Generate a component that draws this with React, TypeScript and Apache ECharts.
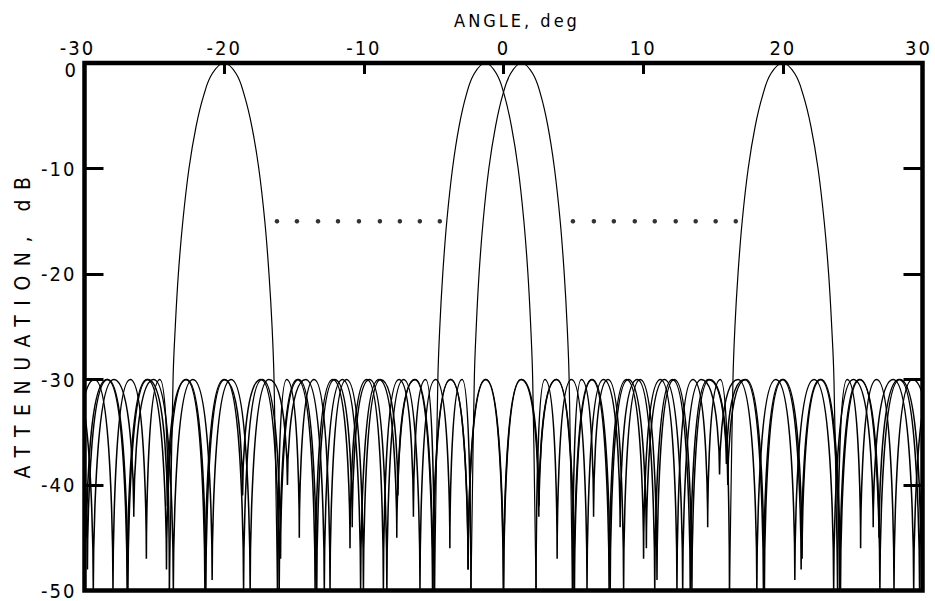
import { useEffect, useRef } from 'react';
import * as echarts from 'echarts';

const FONT = "'DejaVu Sans Condensed', 'DejaVu Sans', sans-serif";

// Axis ticks
const xMin = -30;
const xMax = 30;
const xStep = 10;
const yMin = -50;
const yMax = 0;
const yStep = 10;

// Common levels (dB)
const SIDELOBE_DB = -30;
const DOT_DB = -15;
const mainLevels = [-30, -25, -20, -15, -10, -6, -3, -1, 0, -1, -3, -6, -10, -15, -20, -25, -30];

// Beam steered to -20 deg
const beamA_nulls = [-30.66, -27.96, -25.57, -23.92, -16.18, -14.62, -12.42, -10.03, -7.56, -5.05, -2.54, -0.01, 2.53, 5.08, 7.64, 10.23, 12.83, 15.47, 18.14, 20.86, 23.64, 26.47, 29.37, 32.35];
const beamA_depths = [-44, -50, -47, -50, -50, -45, -50, -50, -41, -50, -48, -50, -43, -50, -50, -46, -50, -39, -50, -49, -50, -44, -50, -47];
const beamA_peaks = [-29.28, -26.72, -24.6, -15.53, -13.56, -11.24, -8.8, -6.31, -3.8, -1.28, 1.25, 3.8, 6.36, 8.93, 11.53, 14.15, 16.8, 19.5, 22.24, 25.04, 27.91, 30.85];
const beamA_mainGap = 3;
const beamA_mainX = [-23.66, -23.5, -23.28, -22.96, -22.52, -22.01, -21.45, -20.85, -20.0, -19.15, -18.57, -18.02, -17.52, -17.09, -16.79, -16.57, -16.43];

// Beam steered to -1.3 deg
const beamB_nulls = [-32.84, -29.85, -26.95, -24.13, -21.38, -18.68, -16.06, -13.49, -10.99, -8.6, -6.45, -4.94, 2.33, 3.84, 5.98, 8.35, 10.83, 13.37, 15.96, 18.61, 21.31, 24.07, 26.89, 29.79, 32.78];
const beamB_depths = [-50, -45, -50, -48, -50, -41, -50, -50, -46, -50, -43, -50, -50, -47, -50, -44, -50, -50, -38, -50, -48, -50, -45, -50, -50];
const beamB_peaks = [-31.33, -28.38, -25.53, -22.74, -20.02, -17.36, -14.76, -12.23, -9.78, -7.49, -5.57, 2.96, 4.87, 7.15, 9.58, 12.09, 14.66, 17.28, 19.95, 22.68, 25.47, 28.33, 31.27];
const beamB_mainGap = 11;
const beamB_mainX = [-4.7, -4.56, -4.35, -4.06, -3.65, -3.18, -2.66, -2.09, -1.3, -0.51, 0.05, 0.57, 1.05, 1.46, 1.75, 1.95, 2.09];

// Beam steered to +1.3 deg
const beamC_nulls = [-32.78, -29.79, -26.89, -24.07, -21.31, -18.61, -15.96, -13.37, -10.83, -8.35, -5.98, -3.84, -2.33, 4.94, 6.45, 8.6, 10.99, 13.49, 16.06, 18.68, 21.38, 24.13, 26.95, 29.85, 32.84];
const beamC_depths = [-50, -48, -50, -42, -50, -50, -47, -50, -44, -50, -50, -46, -50, -50, -43, -50, -49, -50, -40, -50, -47, -50, -50, -45, -50];
const beamC_peaks = [-31.27, -28.33, -25.47, -22.68, -19.95, -17.28, -14.66, -12.09, -9.58, -7.15, -4.87, -2.96, 5.57, 7.49, 9.78, 12.23, 14.76, 17.36, 20.02, 22.74, 25.53, 28.38, 31.33];
const beamC_mainGap = 12;
const beamC_mainX = [-2.09, -1.95, -1.75, -1.46, -1.05, -0.57, -0.05, 0.51, 1.3, 2.09, 2.66, 3.18, 3.65, 4.06, 4.35, 4.56, 4.7];

// Beam steered to +20 deg
const beamD_nulls = [-32.35, -29.37, -26.47, -23.64, -20.86, -18.14, -15.47, -12.83, -10.23, -7.64, -5.08, -2.53, 0.01, 2.54, 5.05, 7.56, 10.03, 12.42, 14.62, 16.18, 23.92, 25.57, 27.96, 30.66];
const beamD_depths = [-46, -50, -43, -50, -49, -50, -40, -50, -50, -45, -50, -48, -50, -42, -50, -50, -47, -50, -44, -50, -50, -46, -50, -42];
const beamD_peaks = [-30.85, -27.91, -25.04, -22.24, -19.5, -16.8, -14.15, -11.53, -8.93, -6.36, -3.8, -1.25, 1.28, 3.8, 6.31, 8.8, 11.24, 13.56, 15.53, 24.6, 26.72, 29.28];
const beamD_mainGap = 19;
const beamD_mainX = [16.43, 16.57, 16.79, 17.09, 17.52, 18.02, 18.57, 19.15, 20.0, 20.85, 21.45, 22.01, 22.52, 22.96, 23.28, 23.5, 23.66];

// Dotted -15 dB markers
const dotsLeftX = [-16.22, -14.79, -13.28, -11.85, -10.35, -8.85, -7.42, -5.99, -4.56];
const dotsRightX = [4.97, 6.47, 7.9, 9.4, 10.83, 12.33, 13.76, 15.19, 16.63];

function sidelobeData(nulls: number[], depths: number[], peaks: number[], mainGap: number) {
  const out: any[] = [];
  let p = 0;
  for (let i = 0; i < nulls.length - 1; i++) {
    if (i === mainGap) continue;
    out.push([nulls[i], depths[i]]);
    out.push([peaks[p], SIDELOBE_DB]);
    out.push([nulls[i + 1], depths[i + 1]]);
    out.push(['-', '-']);
    p++;
  }
  return out;
}

function mainData(nulls: number[], depths: number[], mainX: number[], mainGap: number) {
  const out: any[] = [[nulls[mainGap], depths[mainGap]]];
  mainX.forEach((x, i) => out.push([x, mainLevels[i]]));
  out.push([nulls[mainGap + 1], depths[mainGap + 1]]);
  return out;
}

function sideSeries(data: any[]) {
  return {
    type: 'line',
    data,
    showSymbol: false,
    symbol: 'none',
    smooth: 1,
    smoothMonotone: 'x',
    connectNulls: false,
    lineStyle: { color: '#000', width: 1.55 },
    itemStyle: { color: '#000' },
    silent: true,
    clip: true,
  };
}

function mainSeries(data: any[]) {
  return {
    type: 'line',
    data,
    showSymbol: false,
    symbol: 'none',
    smooth: 0.4,
    lineStyle: { color: '#000', width: 1.2 },
    itemStyle: { color: '#000' },
    silent: true,
    clip: true,
  };
}

const labelStyle = { fontFamily: FONT, fontSize: 20, color: '#000' };

const option: any = {
  animation: false,
  backgroundColor: '#fff',
  grid: {
    left: 84.5,
    right: 12.5,
    top: 63,
    bottom: 10.5,
    show: true,
    borderColor: '#000',
    borderWidth: 4.5,
    backgroundColor: 'transparent',
    containLabel: false,
    outerBoundsMode: 'none',
  },
  xAxis: [
    {
      type: 'value',
      position: 'top',
      min: xMin,
      max: xMax,
      interval: xStep,
      axisLine: { show: false, onZero: false },
      axisTick: { show: true, inside: true, length: 11, lineStyle: { color: '#000', width: 3 } },
      axisLabel: {
        ...labelStyle,
        margin: 5,
        formatter: (v: number) => (v === xMin ? '{l|' + v + '}' : v === xMax ? '{r|' + v + '}' : String(v)),
        rich: {
          l: { fontFamily: FONT, fontSize: 20, color: '#000', padding: [0, 14, 0, 0] },
          r: { fontFamily: FONT, fontSize: 20, color: '#000', padding: [0, 8, 0, 0] },
        },
      },
      splitLine: { show: false },
    },
  ],
  yAxis: [
    {
      type: 'value',
      position: 'left',
      min: yMin,
      max: yMax,
      interval: yStep,
      axisLine: { show: false, onZero: false },
      axisTick: { show: true, inside: true, length: 19, lineStyle: { color: '#000', width: 3 } },
      axisLabel: { ...labelStyle, margin: 8, showMaxLabel: false },
      splitLine: { show: false },
    },
    {
      type: 'value',
      position: 'right',
      min: yMin,
      max: yMax,
      interval: yStep,
      axisLine: { show: false, onZero: false },
      axisTick: { show: true, inside: true, length: 19, lineStyle: { color: '#000', width: 3 } },
      axisLabel: { show: false },
      splitLine: { show: false },
    },
  ],
  graphic: [
    {
      type: 'text',
      x: 78,
      y: 70,
      style: {
        text: String(yMax),
        fontFamily: FONT,
        fontSize: 20,
        fill: '#000',
        align: 'right',
        verticalAlign: 'middle',
        textAlign: 'right',
        textVerticalAlign: 'middle',
      },
    },
    {
      type: 'text',
      x: 517,
      y: 20,
      style: {
        text: 'ANGLE, deg',
        fontFamily: FONT,
        fontSize: 18,
        fill: '#000',
        align: 'center',
        verticalAlign: 'middle',
        textAlign: 'center',
        textVerticalAlign: 'middle',
      },
    },
    {
      type: 'text',
      x: 23,
      y: 323,
      rotation: Math.PI / 2,
      style: {
        text: 'ATTENUATION, dB',
        fontFamily: FONT,
        fontSize: 21,
        fill: '#000',
        align: 'center',
        verticalAlign: 'middle',
        textAlign: 'center',
        textVerticalAlign: 'middle',
      },
    },
  ],
  series: [
    sideSeries(sidelobeData(beamA_nulls, beamA_depths, beamA_peaks, beamA_mainGap)),
    mainSeries(mainData(beamA_nulls, beamA_depths, beamA_mainX, beamA_mainGap)),
    sideSeries(sidelobeData(beamB_nulls, beamB_depths, beamB_peaks, beamB_mainGap)),
    mainSeries(mainData(beamB_nulls, beamB_depths, beamB_mainX, beamB_mainGap)),
    sideSeries(sidelobeData(beamC_nulls, beamC_depths, beamC_peaks, beamC_mainGap)),
    mainSeries(mainData(beamC_nulls, beamC_depths, beamC_mainX, beamC_mainGap)),
    sideSeries(sidelobeData(beamD_nulls, beamD_depths, beamD_peaks, beamD_mainGap)),
    mainSeries(mainData(beamD_nulls, beamD_depths, beamD_mainX, beamD_mainGap)),
    {
      type: 'scatter',
      data: dotsLeftX.map((x) => [x, DOT_DB]).concat(dotsRightX.map((x) => [x, DOT_DB])),
      symbol: 'circle',
      symbolSize: 4.5,
      itemStyle: { color: '#000' },
      silent: true,
    },
  ],
};

const css = `
body { margin: 0; }
#chart-root svg text { letter-spacing: 2px; }
#chart-root svg text[style*="21px"] { letter-spacing: 9.5px; }
#chart-root svg text[style*="18px"] { letter-spacing: 3px; }
`;

export default function App() {
  const ref = useRef<HTMLDivElement>(null);
  useEffect(() => {
    const chart = echarts.init(ref.current!, null, { renderer: 'svg' });
    chart.setOption(option);
    return () => chart.dispose();
  }, []);
  return (
    <>
      <style>{css}</style>
      <div
        id="chart-root"
        ref={ref}
        style={{ position: 'fixed', left: 0, top: 0, width: 935, height: 601, background: '#fff' }}
      />
    </>
  );
}
